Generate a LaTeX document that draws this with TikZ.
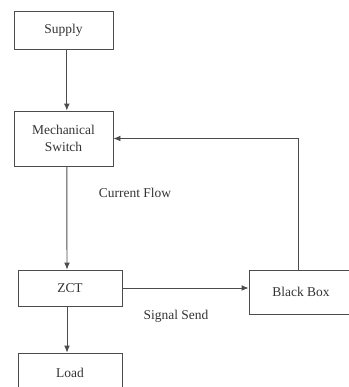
\documentclass[tikz,border=0pt]{standalone}
\usepackage{fontspec}
\setmainfont{Liberation Serif}
\usetikzlibrary{arrows.meta}
\definecolor{LineClr}{rgb}{0.3,0.3,0.3}

\begin{document}
\begin{tikzpicture}[x=0.03cm,y=-0.03cm,
  blk/.style={draw=LineClr,line width=0.75pt,rectangle,inner sep=0pt,
    align=center,font=\fontsize{11.5}{14}\selectfont,text=black!80},
  arr/.style={draw=LineClr,line width=0.8pt,-{Latex[length=6pt,width=5pt]}},
  lbl/.style={font=\fontsize{11.5}{13}\selectfont,text=black!80}]
\useasboundingbox (0,0) rectangle (349,387);
\clip (0,0) rectangle (349,387);

\node[blk,minimum width=99*0.03cm,minimum height=38*0.03cm] (supply) at (63.5,30) {Supply};
\node[blk,minimum width=99*0.03cm,minimum height=55*0.03cm] (mech) at (63.5,138.5) {Mechanical\\Switch};
\node[blk,minimum width=104*0.03cm,minimum height=36*0.03cm] (zct) at (70,288) {ZCT};
\node[blk,minimum width=104*0.03cm,minimum height=44*0.03cm] (bbox) at (301,292) {Black Box};
\node[blk,minimum width=104*0.03cm,minimum height=40*0.03cm] (load) at (70,373) {Load};

\node[lbl] (flow) at (135,193) {Current Flow};
\node[lbl] (send) at (176,316) {Signal Send};

\draw[arr] ([xshift=0.1cm]supply.south) -- ([xshift=0.1cm]mech.north);
\draw[arr] ([xshift=0.1cm]mech.south) -- ([xshift=-0.09cm]zct.north);
\draw[arr] ([xshift=-0.09cm]zct.south) -- ([xshift=-0.09cm]load.north);
\draw[arr] (zct.east |- 0,288) -- (bbox.west |- 0,288);
\draw[arr] ([xshift=-0.09cm]bbox.north) |- (mech.east);

\end{tikzpicture}
\end{document}
